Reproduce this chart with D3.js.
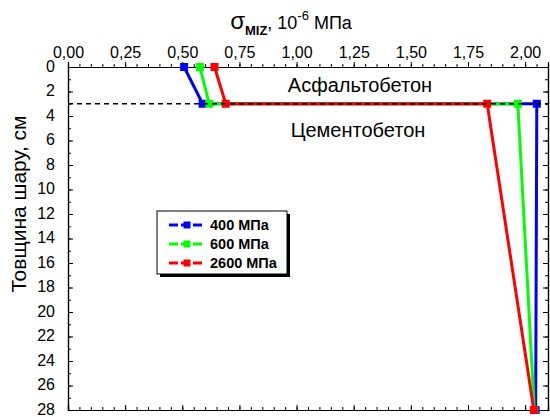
<!DOCTYPE html>
<html><head><meta charset="utf-8">
<script src="https://cdn.jsdelivr.net/npm/d3@7"></script>
<style>body{margin:0;background:#fff;}svg{display:block;font-family:"Liberation Sans",Arial,sans-serif;}</style>
</head><body><svg id="c" width="550" height="417"></svg>
<script>
const seriesNames = ["400 МПа", "600 МПа", "2600 МПа"];
const seriesColors = ["#0000ff", "#00ff00", "#ff0000"];
const depths = [0, 3, 3, 28];
const stress400 = [0.508, 0.589, 2.051, 2.046];
const stress600 = [0.577, 0.618, 1.968, 2.040];
const stress2600 = [0.641, 0.690, 1.834, 2.038];
const interfaceDepth = 3;
const xTicks = [0, 0.25, 0.5, 0.75, 1.0, 1.25, 1.5, 1.75, 2.0];
const yTicks = [0, 2, 4, 6, 8, 10, 12, 14, 16, 18, 20, 22, 24, 26, 28];
const layerLabels = ["Асфальтобетон", "Цементобетон"];

const svg = d3.select("#c");
const L = 68, R = 548, T = 67, B = 410;
const x = d3.scaleLinear().domain([0, 2.1]).range([L, R]);
const y = d3.scaleLinear().domain([0, 28]).range([T, B]);
const fmt = d => d3.format(".2f")(d).replace(".", ",");

// top axis (ticks outward)
const minorX = d3.range(0, 2.1001, 0.05);
const topAx = svg.append("g").attr("transform", `translate(0,${T})`);
topAx.call(d3.axisTop(x).tickValues(minorX).tickSize(3).tickFormat(""));
topAx.append("g").call(d3.axisTop(x).tickValues(xTicks).tickSize(5).tickPadding(4).tickFormat(fmt));
// bottom axis (ticks inward)
const botAx = svg.append("g").attr("transform", `translate(0,${B})`);
botAx.call(d3.axisBottom(x).tickValues(minorX).tickSize(-3).tickFormat(""));
botAx.append("g").call(d3.axisBottom(x).tickValues(xTicks).tickSize(-5).tickFormat(""));
// left axis (ticks inward)
const minorY = d3.range(0, 28.001, 1);
const leftAx = svg.append("g").attr("transform", `translate(${L},0)`);
leftAx.call(d3.axisLeft(y).tickValues(minorY).tickSize(-3).tickFormat(""));
const yLab = leftAx.append("g").call(d3.axisLeft(y).tickValues(yTicks).tickSize(-5).tickPadding(13).tickFormat(d3.format("d")));
// right axis
const rightAx = svg.append("g").attr("transform", `translate(${R},0)`);
rightAx.call(d3.axisRight(y).tickValues(minorY).tickSize(-3).tickFormat(""));
rightAx.append("g").call(d3.axisRight(y).tickValues(yTicks).tickSize(-5).tickFormat(""));

svg.selectAll(".domain").attr("stroke", "#000").attr("stroke-width", 1.2);
svg.selectAll(".tick line").attr("stroke", "#000");
svg.selectAll(".tick text").attr("font-size", 16).attr("fill", "#000").attr("font-family", "Liberation Sans, Arial, sans-serif");
yLab.selectAll(".tick text").attr("dy", "0.27em");

// series
const data = [stress400, stress600, stress2600];
const line = d3.line().x(d => x(d[0])).y(d => y(d[1]));
data.forEach((vals, i) => {
  const pts = vals.map((v, j) => [v, depths[j]]);
  svg.append("path").datum(pts).attr("d", line).attr("fill", "none")
    .attr("stroke", seriesColors[i]).attr("stroke-width", 3);
  svg.selectAll(null).data(pts).enter().append("rect")
    .attr("x", d => x(d[0]) - 4).attr("y", d => y(d[1]) - 4)
    .attr("width", 8).attr("height", 8).attr("fill", seriesColors[i]);
});

// interface dashed line
svg.append("line").attr("x1", L).attr("x2", R)
  .attr("y1", y(interfaceDepth)).attr("y2", y(interfaceDepth))
  .attr("stroke", "#000").attr("stroke-width", 1.3).attr("stroke-dasharray", "5,4");

// layer labels
svg.append("text").attr("x", 360).attr("y", 92).attr("text-anchor", "middle")
  .attr("font-size", 20).text(layerLabels[0]);
svg.append("text").attr("x", 358).attr("y", 137).attr("text-anchor", "middle")
  .attr("font-size", 20).text(layerLabels[1]);

// legend
const lg = svg.append("g");
lg.append("rect").attr("x", 160).attr("y", 214).attr("width", 130).attr("height", 63).attr("fill", "#000");
lg.append("rect").attr("x", 157).attr("y", 211).attr("width", 130).attr("height", 63)
  .attr("fill", "#fff").attr("stroke", "#000").attr("stroke-width", 1);
seriesNames.forEach((n, i) => {
  const yy = 225 + i * 19;
  lg.append("line").attr("x1", 169).attr("x2", 205).attr("y1", yy).attr("y2", yy)
    .attr("stroke", seriesColors[i]).attr("stroke-width", 3).attr("stroke-dasharray", "9,3");
  lg.append("rect").attr("x", 183.5).attr("y", yy - 3.5).attr("width", 7).attr("height", 7).attr("fill", seriesColors[i]);
  lg.append("text").attr("x", 210).attr("y", yy + 5).attr("font-size", 14.5)
    .attr("font-weight", "bold").text(n);
});

// x title
const xt = svg.append("text").attr("x", 291).attr("y", 29).attr("text-anchor", "middle").attr("font-size", 18);
xt.append("tspan").attr("font-size", 24).text("σ");
xt.append("tspan").attr("font-size", 13).attr("font-weight", "bold").attr("dy", 6).text("MIZ");
xt.append("tspan").attr("dy", -6).text(", 10");
xt.append("tspan").attr("font-size", 13).attr("dy", -9).text("-6");
xt.append("tspan").attr("dy", 9).text(" МПа");

// y title
svg.append("text").attr("transform", "translate(26,204) rotate(-90)")
  .attr("text-anchor", "middle").attr("font-size", 21).text("Товщина шару, см");
</script></body></html>
